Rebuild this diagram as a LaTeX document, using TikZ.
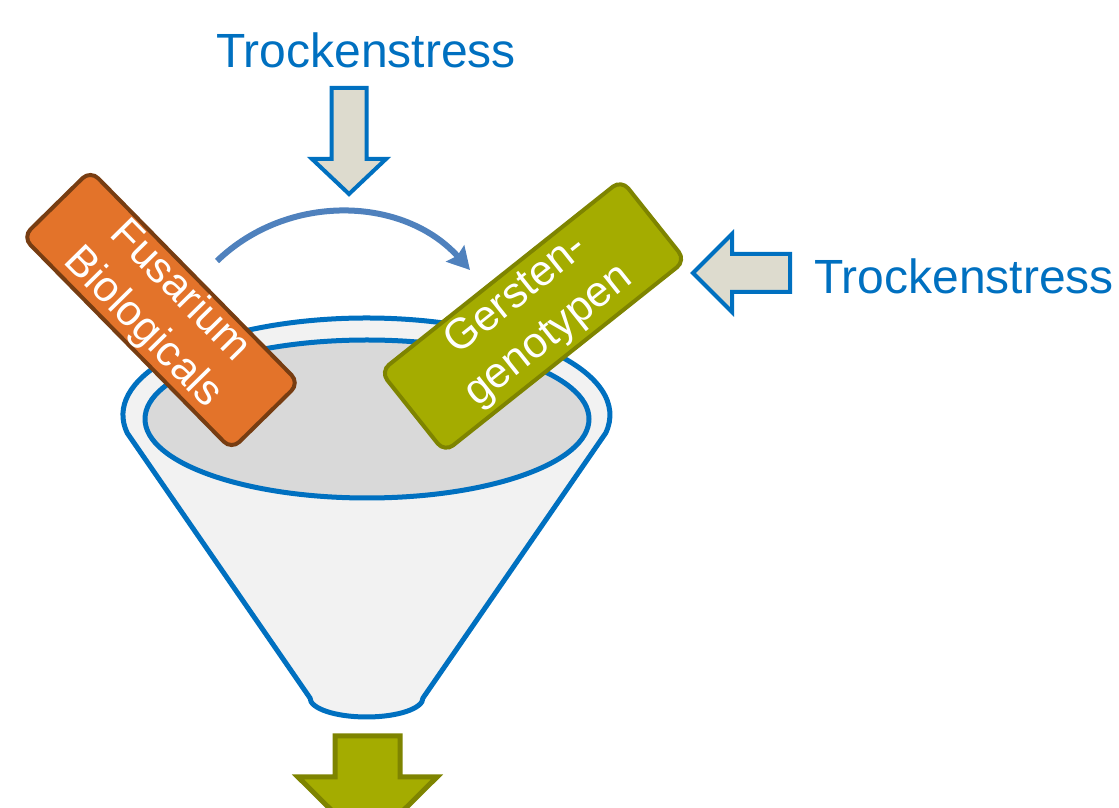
\documentclass[tikz,border=0pt]{standalone}
\usepackage{fontspec}
\setmainfont{Liberation Sans}
\usetikzlibrary{arrows.meta}
\definecolor{fblue}{HTML}{0070C0}
\definecolor{bowblue}{HTML}{4F81BD}
\definecolor{tan}{HTML}{DDDBCE}
\definecolor{rim}{HTML}{F2F2F2}
\definecolor{bowl}{HTML}{D9D9D9}
\definecolor{orng}{HTML}{E3732A}
\definecolor{brwn}{HTML}{773D12}
\definecolor{olive}{HTML}{A4AC00}
\definecolor{darkolive}{HTML}{7E8400}

\begin{document}
\begin{tikzpicture}[x=1pt,y=1pt,
t/.style={text=fblue,inner sep=0pt,font=\fontsize{48}{56}\selectfont},
b/.style={line width=4pt,rounded corners=11pt,text=white,align=center,inner sep=0pt,font=\fontsize{43}{52}\selectfont},
s/.style={draw=fblue,fill=tan,line width=4pt},
w/.style={draw=fblue,line width=5pt,line join=round},
bow/.style={draw=bowblue,line width=6pt,-{Stealth[length=22pt,width=24pt,inset=3pt]}}]
\useasboundingbox (0,0) rectangle (1119,808);
\clip (0,0) rectangle (1119,808);
% funnel body and opening
\filldraw[w,fill=rim] (127.2,375) arc[start angle=190.7,end angle=-10.7,x radius=243.5,y radius=97]
  -- (423,110) arc[start angle=0,end angle=-180,x radius=56.5,y radius=19] -- cycle;
\filldraw[w,fill=bowl] (367,389) ellipse[x radius=222,y radius=79];
% inputs
\node[b,fill=orng,draw=brwn,minimum width=298pt,minimum height=95pt,rotate=-45.5](fus) at (161,498){Fusarium\\Biologicals};
\node[b,fill=olive,draw=darkolive,minimum width=308pt,minimum height=103pt,rotate=38.5](gen) at (533,492){Gersten-\\genotypen};
\coordinate (c1) at (217,547);
\coordinate (c2) at (470,538);
\draw[bow](c1) to[bend left=46] (c2);
% stress labels and block arrows
\node[t,anchor=base](top) at (366,740){Trockenstress};
\node[t,anchor=base west](side) at (814,514){Trockenstress};
\draw[s] (331.5,720) -- (366.5,720) -- (366.5,649) -- (386,649) -- (349,614) -- (312,649) -- (331.5,649) -- cycle;
\draw[s] (693,535) -- (732,574) -- (732,554) -- (790,554) -- (790,516) -- (732,516) -- (732,496) -- cycle;
\draw[draw=darkolive,fill=olive,line width=5pt] (335,72) -- (400,72) -- (400,31) -- (437,31) -- (367.5,-38) -- (298,31) -- (335,31) -- cycle;
\end{tikzpicture}
\end{document}
